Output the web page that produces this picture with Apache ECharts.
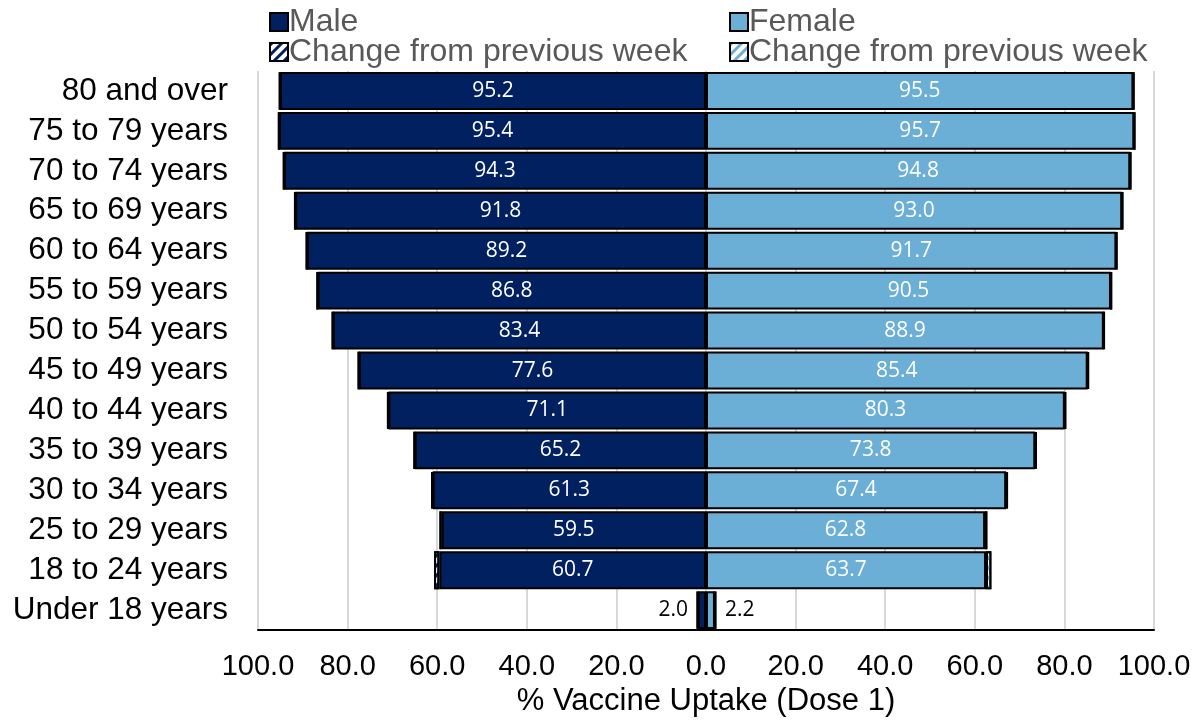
<!DOCTYPE html>
<html>
<head>
<meta charset="utf-8">
<script src="https://cdn.jsdelivr.net/npm/echarts@6/dist/echarts.min.js"></script>
<style>html,body{margin:0;padding:0;background:#fff;}#c{width:1200px;height:722px;}</style>
</head>
<body>
<div id="c"></div>
<script>
const categories = ['80 and over','75 to 79 years','70 to 74 years','65 to 69 years','60 to 64 years','55 to 59 years','50 to 54 years','45 to 49 years','40 to 44 years','35 to 39 years','30 to 34 years','25 to 29 years','18 to 24 years','Under 18 years'];
const maleTotal   = [95.2,95.4,94.3,91.8,89.2,86.8,83.4,77.6,71.1,65.2,61.3,59.5,60.7,2.0];
const femaleTotal = [95.5,95.7,94.8,93.0,91.7,90.5,88.9,85.4,80.3,73.8,67.4,62.8,63.7,2.2];
const maleChange   = [0.1,0.1,0.1,0.1,0.1,0.1,0.1,0.1,0.2,0.2,0.3,0.5,1.2,0.2];
const femaleChange = [0.1,0.1,0.1,0.1,0.1,0.1,0.1,0.2,0.2,0.3,0.4,0.5,1.2,0.2];
const xTicks = [-100,-80,-60,-40,-20,0,20,40,60,80,100];

const MALE = '#002060', FEMALE = '#6BAED6';
const last = categories.length - 1;

function mainData(total, change, sign, pos) {
  return total.map((t, i) => {
    const d = { value: sign * +(t - change[i]).toFixed(2), total: t };
    if (i === last) d.label = { position: pos, color: '#000', distance: 10 };
    return d;
  });
}
const labelCommon = {
  show: true, position: 'inside', color: '#fff',
  fontFamily: 'Open Sans', fontSize: 21,
  formatter: p => p.data.total.toFixed(1)
};
const decalBase = { symbol: 'rect', dashArrayX: [1, 0], dashArrayY: [3, 4], rotation: -Math.PI / 4, symbolSize: 1 };
const legendText = { fontFamily: 'Liberation Sans', fontSize: 32, color: '#595959', padding: [0,0,0,-4] };

const chart = echarts.init(document.getElementById('c'));
chart.setOption({
  animation: false,
  backgroundColor: '#fff',
  legend: [
    { data: ['Male', 'Change from previous week '], orient: 'vertical', left: 264, top: 1,
      icon: 'rect', itemWidth: 18, itemHeight: 18, itemGap: -2, textStyle: legendText,
      itemStyle: { borderColor: '#000', borderWidth: 2 } },
    { data: ['Female', 'Change from previous week'], orient: 'vertical', left: 724, top: 1,
      icon: 'rect', itemWidth: 18, itemHeight: 18, itemGap: -2, textStyle: legendText,
      itemStyle: { borderColor: '#000', borderWidth: 2 } }
  ],
  grid: { left: 258, right: 46, top: 71, bottom: 89 },
  xAxis: {
    type: 'value', min: -100, max: 100, interval: 20,
    axisLine: { show: true, onZero: false, lineStyle: { color: '#000', width: 2 } },
    axisTick: { show: false },
    splitLine: { show: true, lineStyle: { color: '#d9d9d9', width: 2 } },
    axisLabel: { margin: 22, fontFamily: 'Liberation Sans', fontSize: 29, color: '#000',
      formatter: v => Math.abs(v).toFixed(1) },
    name: '% Vaccine Uptake (Dose 1)', nameLocation: 'middle', nameGap: 54,
    nameTextStyle: { fontFamily: 'Liberation Sans', fontSize: 31, color: '#000' }
  },
  yAxis: {
    type: 'category', data: categories, inverse: true,
    axisLine: { show: false }, axisTick: { show: false },
    axisLabel: { interval: 0, margin: 30, padding: [4, 0, 0, 0], fontFamily: 'Liberation Sans', fontSize: 31.5, color: '#000' }
  },
  series: [
    { name: 'Male', type: 'bar', stack: 'm', barCategoryGap: '5%', barGap: '-100%',
      itemStyle: { color: MALE, borderColor: '#000', borderWidth: 2 },
      label: labelCommon,
      data: mainData(maleTotal, maleChange, -1, 'left') },
    { name: 'Change from previous week ', type: 'bar', stack: 'm',
      itemStyle: { color: '#fff', borderColor: '#000', borderWidth: 2, decal: Object.assign({ color: MALE }, decalBase) },
      data: maleChange.map(v => -v) },
    { name: 'Female', type: 'bar', stack: 'f', barCategoryGap: '5%', barGap: '-100%',
      itemStyle: { color: FEMALE, borderColor: '#000', borderWidth: 2 },
      label: labelCommon,
      data: mainData(femaleTotal, femaleChange, 1, 'right') },
    { name: 'Change from previous week', type: 'bar', stack: 'f',
      itemStyle: { color: '#fff', borderColor: '#000', borderWidth: 2, decal: Object.assign({ color: FEMALE }, decalBase) },
      data: femaleChange }
  ]
});
</script>
</body>
</html>
